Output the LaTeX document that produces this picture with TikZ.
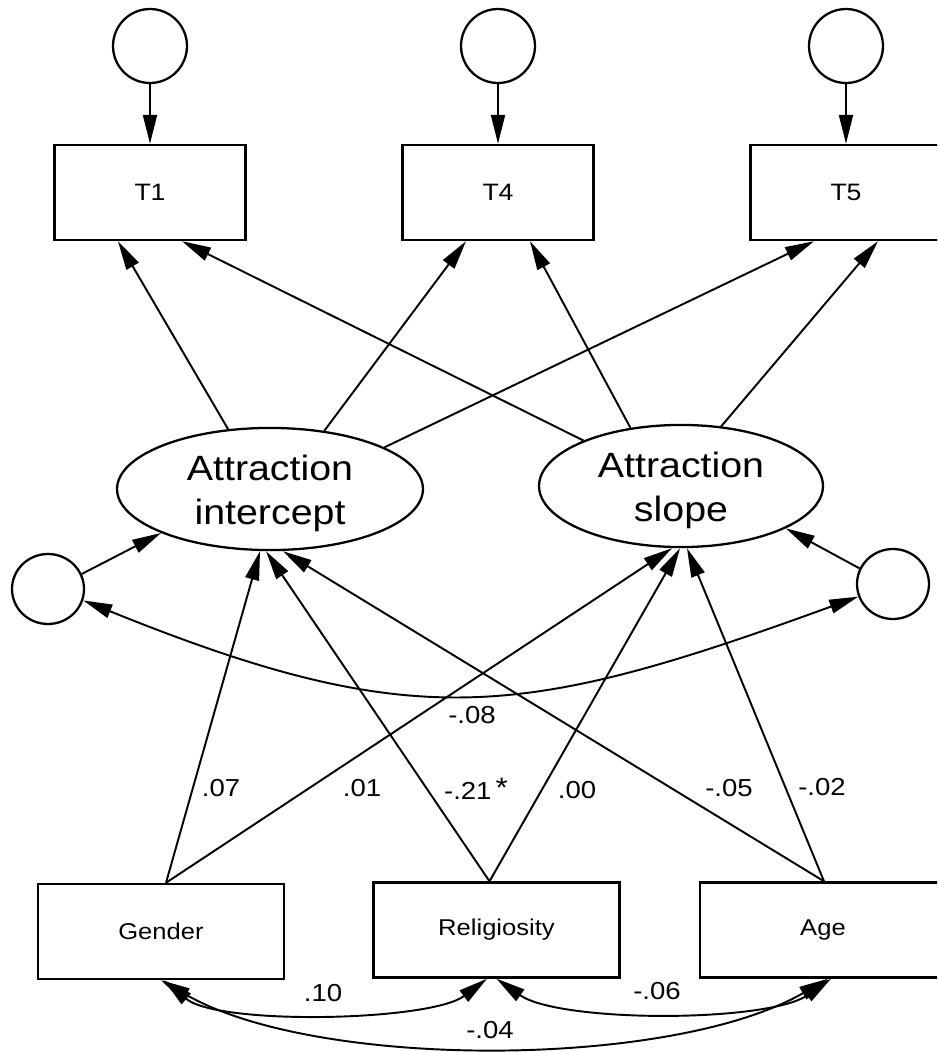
\documentclass[tikz,border=0pt]{standalone}
\usepackage{fontspec}
\setmainfont{Liberation Sans}[FakeStretch=1.12]
\usetikzlibrary{arrows.meta,calc,shapes.geometric}
\begin{document}
\begin{tikzpicture}[x=0.02cm,y=-0.02cm,
  line width=1.1pt,
  arr/.style={-{Triangle[length=5.8mm,width=2.8mm]}},
  darr/.style={{Triangle[length=5.8mm,width=2.8mm]}-{Triangle[length=5.8mm,width=2.8mm]}},
  errc/.style={draw,line width=1.3pt,circle,minimum size=1.48cm,inner sep=0pt},
  resc/.style={draw,line width=1.3pt,ellipse,minimum width=1.44cm,minimum height=1.4cm,inner sep=0pt},
  tbox/.style={draw,line width=1.4pt,rectangle,minimum width=3.82cm,minimum height=1.9cm,inner sep=0pt,font=\fontsize{13.5}{15}\selectfont},
  bbox/.style={draw,line width=1.4pt,rectangle,minimum width=4.92cm,minimum height=1.9cm,inner sep=0pt,font=\fontsize{13}{15}\selectfont},
  latent/.style={draw,line width=1.3pt,ellipse,inner sep=0pt,align=center,font=\fontsize{20}{25}\selectfont},
  lab/.style={font=\fontsize{14}{16}\selectfont,inner sep=1pt}
]
\useasboundingbox (0,0) rectangle (937,1052);
\clip (0,0) rectangle (937,1052);

% top error circles
\node[errc] (e1) at (150,46) {};
\node[errc] (e2) at (498,46) {};
\node[errc] (e3) at (846,46) {};

% indicator boxes
\node[tbox] (T1) at (150,192.5) {T1};
\node[tbox] (T4) at (498,192.5) {T4};
\node[tbox] (T5) at (846,192.5) {T5};

% latent factors
\node[latent,minimum width=6.12cm,minimum height=2.36cm] (II) at (270,489) {\rule{0pt}{20pt}Attraction\\intercept};
\node[latent,minimum width=5.68cm,minimum height=2.4cm] (SS) at (681,486) {\rule{0pt}{20pt}Attraction\\slope};

% residuals of latent factors
\node[resc] (d1) at (48,589) {};
\node[resc] (d2) at (893,584) {};

% predictors
\node[bbox] (G) at (161,931.5) {Gender};
\node[bbox] (R) at (496.5,930) {Religiosity};
\node[bbox] (A) at (823,930) {Age};

% error arrows
\draw[arr] (e1) -- (T1);
\draw[arr] (e2) -- (T4);
\draw[arr] (e3) -- (T5);

% loadings
\draw[arr] (II.125) -- ($(T1.south)+(-32,0)$);
\draw[arr] (II.47) -- ($(T4.south)+(-32,0)$);
\draw[arr] (II.20) -- ($(T5.south)+(-32,0)$);
\draw[arr] (SS.155.5) -- ($(T1.south)+(32,0)$);
\draw[arr] (SS.131) -- ($(T4.south)+(32,0)$);
\draw[arr] (SS.56.5) -- ($(T5.south)+(32,0)$);

% residual arrows
\draw[arr] (d1.24) -- (II.202);
\draw[arr] (d2.155) -- (SS.-22);
\draw[darr] (d1.-18) to[out=-22,in=-160,looseness=1.18] (d2.-160);

% regressions
\coordinate (gt) at ($(G.north)+(5,0)$);
\coordinate (rt) at ($(R.north)+(-7,0)$);
\coordinate (at) at ($(A.north)+(1,0)$);
\draw[arr] (gt) -- ($(II.south)+(-10,0)$);
\draw[arr] (gt) -- ($(SS.south)+(-9,0)$);
\draw[arr] (rt) -- ($(II.south)+(-4,0)$);
\draw[arr] (rt) -- ($(SS.south)+(-1,0)$);
\draw[arr] (at) -- ($(II.south)+(13,0)$);
\draw[arr] (at) -- ($(SS.south)+(6,0)$);

% covariances among predictors
\draw[darr] ($(G.south)+(3,0)$) to[out=-40,in=-143,looseness=0.56] ($(R.south)+(-9.5,0)$);
\draw[darr] ($(R.south)+(0,0)$) to[out=-35,in=-145,looseness=0.59] ($(A.south)+(8,0)$);
\draw[darr] ($(G.south)+(0,0)$) to[out=-30,in=-150,looseness=0.69] ($(A.south)+(5,0)$);

% labels
\node[lab] (l1) at (221,788) {.07};
\node[lab] (l2) at (362,788) {.01};
\node[lab] (l3) at (476,789) {-.21\,\raisebox{0.15ex}{\fontsize{16}{16}\selectfont *}};
\node[lab] (l4) at (577,790) {.00};
\node[lab] (l5) at (729,788) {-.05};
\node[lab] (l6) at (822,787) {-.02};
\node[lab] (l7) at (472,715) {-.08};
\node[lab] (l8) at (323,993) {.10};
\node[lab] (l9) at (657,991) {-.06};
\node[lab] (l10) at (490,1030) {-.04};
\end{tikzpicture}
\end{document}
